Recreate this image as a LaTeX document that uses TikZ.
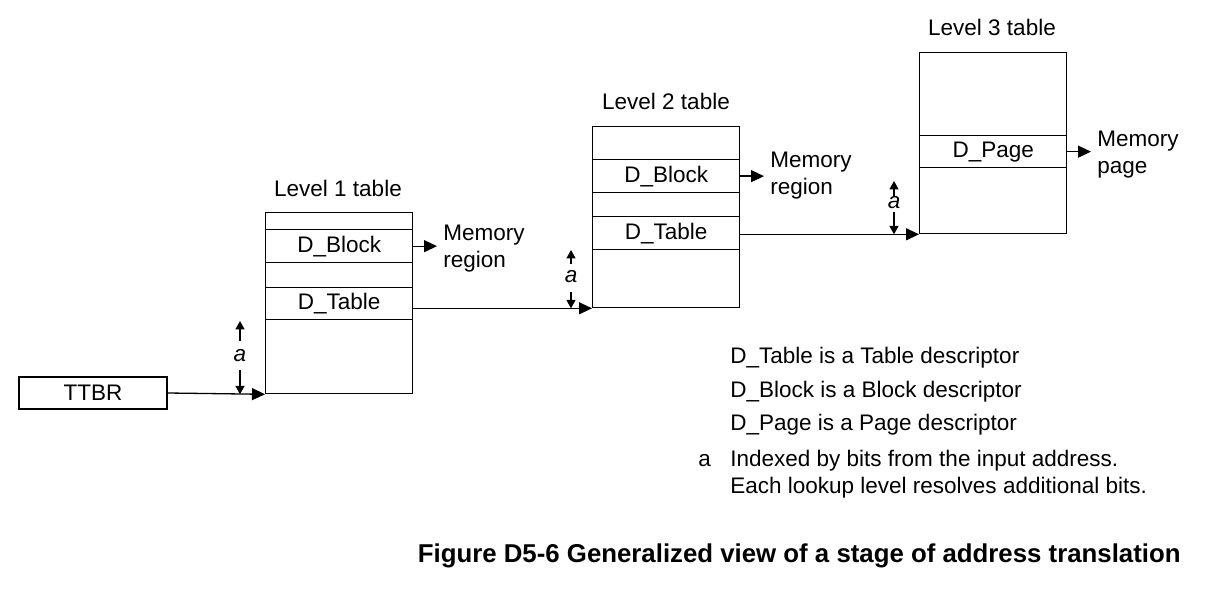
\documentclass[tikz,border=0pt]{standalone}
\usepackage{fontspec}
\setmainfont{Liberation Sans}
\usetikzlibrary{arrows.meta}
\begin{document}
\begin{tikzpicture}[x=0.5pt,y=-0.5pt,
  every node/.style={font=\fontsize{11.25}{13.5}\selectfont, inner sep=0pt},
  tbl/.style={draw, line width=0.65pt, minimum width=73.5pt, minimum height=90.5pt, anchor=north west},
  rowbox/.style={draw, line width=0.65pt, minimum width=73.5pt, minimum height=16.5pt, anchor=north west},
  conn/.style={line width=0.65pt, -{Triangle[length=6.5pt,width=6pt]}},
  idx/.style={line width=0.65pt, -{Triangle[length=4.2pt,width=4.5pt]}},
  txt/.style={anchor=base west, align=left},
  idxlbl/.style={font=\fontsize{11.25}{13.5}\selectfont\itshape}]
\useasboundingbox (0,0) rectangle (1208,588);

% TTBR
\node[draw, line width=0.65pt, minimum width=74pt, minimum height=16pt] (ttbr) at (93,393) {TTBR};

% Level 1
\node (lab1) at (338,188) {Level 1 table};
\node[tbl] (t1) at (265,212) {};
\node[rowbox] (b1) at (265,229) {D\_Block};
\node[rowbox, minimum height=16pt] (d1) at (265,287) {D\_Table};
\node[txt] (m1) at (443,267) {Memory\\region};

% Level 2
\node (lab2) at (666,101) {Level 2 table};
\node[tbl] (t2) at (592,126) {};
\node[rowbox] (b2) at (592,159) {D\_Block};
\node[rowbox] (d2) at (592,216) {D\_Table};
\node[txt] (m2) at (770,195) {Memory\\region};

% Level 3
\node (lab3) at (992,27) {Level 3 table};
\node[tbl] (t3) at (919,52) {};
\node[rowbox, minimum height=16pt] (p3) at (919,135) {D\_Page};
\node[txt] (m3) at (1097,174) {Memory\\page};

% connectors
\draw[conn] (ttbr.east) -- (t1.south west);
\draw[conn] (d1.east |- t2.south west) -- (t2.south west);
\draw[conn] (d2.east |- t3.south west) -- (t3.south west);
\draw[conn] (b1.east) -- ([xshift=-3pt]m1.west |- b1.east);
\draw[conn] (b2.east) -- ([xshift=-3pt]m2.west |- b2.east);
\draw[conn] (p3.east) -- ([xshift=-3pt]m3.west |- p3.east);

% index annotations
\node[idxlbl] (a1) at (240,356) {a};
\draw[idx] (240,341) -- (240,321);
\draw[idx] (240,370) -- (a1 |- t1.south);
\node[idxlbl] (a2) at (571,277) {a};
\draw[idx] (571,264) -- (571,250);
\draw[idx] (571,292) -- (a2 |- t2.south);
\node[idxlbl] (a3) at (894,203) {a};
\draw[idx] (894,196) -- (894,181);
\draw[idx] (894,212) -- (a3 |- t3.south);

% legend
\node[txt] (l1) at (730,363) {D\_Table is a Table descriptor};
\node[txt] (l2) at (730,397) {D\_Block is a Block descriptor};
\node[txt] (l3) at (730,430) {D\_Page is a Page descriptor};
\node[txt] (la) at (698,466) {a};
\node[txt] (l4) at (730,493) {Indexed by bits from the input address.\\Each lookup level resolves additional bits.};

% caption
\node[anchor=base east, font=\fontsize{12.9}{15}\selectfont\bfseries] (cap) at (1181,562) {Figure D5-6 Generalized view of a stage of address translation};
\end{tikzpicture}
\end{document}
